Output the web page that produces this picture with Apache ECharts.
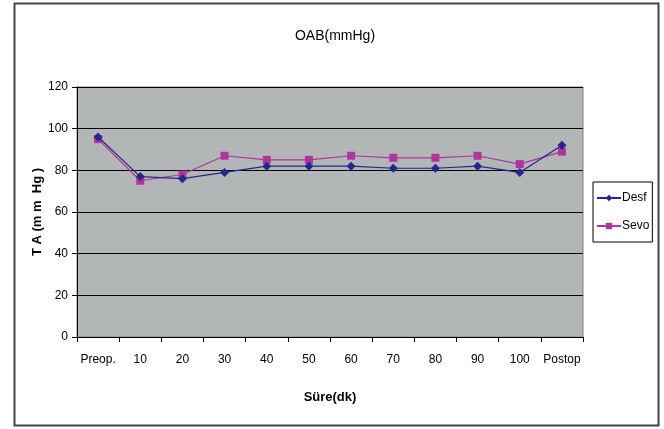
<!DOCTYPE html>
<html>
<head>
<meta charset="utf-8">
<script src="https://cdn.jsdelivr.net/npm/echarts@6/dist/echarts.min.js"></script>
<style>
  html, body { margin: 0; padding: 0; background: #fff; }
  #chart { width: 664px; height: 429px; }
</style>
</head>
<body>
<div id="chart"></div>
<script>
var categories = ['Preop.', '10', '20', '30', '40', '50', '60', '70', '80', '90', '100', 'Postop'];
var desf = [96, 77, 76, 79, 82, 82, 82, 81, 81, 82, 79, 92];
var sevo = [95, 75, 78, 87, 85, 85, 87, 86, 86, 87, 83, 89];

var font = '"Liberation Sans Narrow", "Arial Narrow", "Liberation Sans", Arial, sans-serif';

var chart = echarts.init(document.getElementById('chart'));
chart.setOption({
  animation: false,
  backgroundColor: '#fff',
  textStyle: { fontFamily: font, color: '#000' },
  title: {
    text: 'OAB(mmHg)',
    left: 330,
    textAlign: 'center',
    top: 24,
    textStyle: { fontFamily: font, fontSize: 14, fontWeight: 'normal', color: '#000' }
  },
  graphic: [{
    type: 'rect',
    shape: { x: 14.5, y: 3.5, width: 644, height: 422 },
    style: { fill: 'none', stroke: '#444', lineWidth: 2 },
    z: 100
  }],
  legend: {
    orient: 'vertical',
    left: 593,
    top: 182,
    padding: [10, 3, 10, 3],
    itemGap: 16,
    itemWidth: 24,
    itemHeight: 8,
    borderColor: '#000',
    borderWidth: 1,
    backgroundColor: '#fff',
    textStyle: { fontFamily: font, fontSize: 12, color: '#000', padding: [0, 0, 0, -4] },
    data: ['Desf', 'Sevo']
  },
  grid: { left: 77, right: 81, top: 87, bottom: 92, show: true, backgroundColor: '#b3b6b6', borderColor: '#808080', borderWidth: 1 },
  xAxis: {
    type: 'category',
    data: categories,
    boundaryGap: true,
    name: 'Süre(dk)',
    nameLocation: 'middle',
    nameGap: 54,
    nameMoveOverlap: false,
    nameTextStyle: { fontFamily: font, fontSize: 13, fontWeight: 'bold', color: '#000' },
    axisLine: { lineStyle: { color: '#000', width: 1 } },
    axisTick: { show: true, length: 5, inside: false, lineStyle: { color: '#000' } },
    axisLabel: { fontFamily: font, fontSize: 12, color: '#000', margin: 17, interval: 0 },
    splitLine: { show: false }
  },
  yAxis: {
    type: 'value',
    min: 0,
    max: 120,
    interval: 20,
    name: 'T A (m m  Hg )',
    nameLocation: 'middle',
    nameGap: 33,
    nameMoveOverlap: false,
    nameRotate: 90,
    nameTextStyle: { fontFamily: font, fontSize: 13, fontWeight: 'bold', color: '#000' },
    axisLine: { show: true, lineStyle: { color: '#000', width: 1 } },
    axisTick: { show: true, length: 5, lineStyle: { color: '#000' } },
    axisLabel: { fontFamily: font, fontSize: 12, color: '#000', margin: 9 },
    splitLine: { show: true, lineStyle: { color: '#000', width: 1 } }
  },
  series: [
    {
      name: 'Desf',
      type: 'line',
      data: desf,
      symbol: 'diamond',
      symbolSize: 9,
      color: '#26268f',
      lineStyle: { width: 1.2, color: '#26268f' },
      itemStyle: { color: '#26268f' },
      z: 3
    },
    {
      name: 'Sevo',
      type: 'line',
      data: sevo,
      symbol: 'rect',
      symbolSize: 8,
      color: '#b0359a',
      lineStyle: { width: 1.2, color: '#b0359a' },
      itemStyle: { color: '#b0359a' },
      z: 2
    }
  ]
});
</script>
</body>
</html>
